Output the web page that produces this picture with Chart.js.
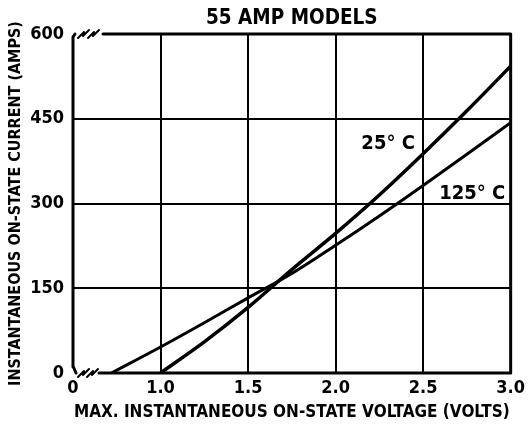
<!DOCTYPE html>
<html>
<head>
<meta charset="utf-8">
<script src="https://cdn.jsdelivr.net/npm/chart.js@4"></script>
<style>
  html, body { margin: 0; padding: 0; background: #fff; }
  #wrap { width: 530px; height: 427px; }
</style>
</head>
<body>
<div id="wrap"><canvas id="vi"></canvas></div>
<script>
// forward voltage (V) vs instantaneous current (A)
const volts25 = [1.0, 1.25, 1.5, 1.75, 2.0, 2.25, 2.5, 2.75, 3.0];
const amps25 = [0, 55, 116, 183, 247, 315, 388, 464, 543];

const volts125 = [0.72, 1.0, 1.25, 1.5, 1.75, 2.0, 2.25, 2.5, 2.75, 3.0];
const amps125 = [0, 46, 89, 133, 176, 226, 278, 332, 387, 443];

const xTicks = [0.5, 1.0, 1.5, 2.0, 2.5, 3.0];
const xTickLabels = ['0', '1.0', '1.5', '2.0', '2.5', '3.0'];
const yTicks = [0, 150, 300, 450, 600];

const curveLabels = ['25° C', '125° C'];
const labelAt = [[2.3, 406], [2.78, 318]];

const FONT = "'Liberation Sans Narrow', 'DejaVu Sans Condensed', 'Arial Narrow', sans-serif";

function toPoints(xs, ys) {
  return xs.map((x, i) => ({ x: x, y: ys[i] }));
}

// frame with the axis-break squiggles, plus the curve labels
const frame = {
  id: 'frame',
  afterDatasetsDraw(chart) {
    const c = chart.ctx;
    const a = chart.chartArea;
    c.save();
    c.strokeStyle = '#000';
    c.lineCap = 'round';
    c.lineJoin = 'round';
    c.lineWidth = 3;
    c.beginPath();
    // left
    c.moveTo(a.left, a.bottom - 6);
    c.lineTo(a.left, a.top + 3);
    c.lineTo(a.left + 2, a.top);
    // top, after break
    c.moveTo(a.left + 30, a.top);
    c.lineTo(a.right, a.top);
    c.lineTo(a.right, a.bottom);
    // bottom, after break
    c.lineTo(a.left + 26, a.bottom);
    c.moveTo(a.left, a.bottom - 7);
    c.lineTo(a.left + 3, a.bottom);
    c.stroke();

    c.lineWidth = 2;
    function squiggle(x, y) {
      c.beginPath();
      c.moveTo(x, y + 3);
      c.lineTo(x + 6, y - 3);
      c.lineTo(x + 5, y + 1);
      c.lineTo(x + 11, y - 5);
      c.stroke();
    }
    squiggle(a.left + 5, a.top + 1);
    squiggle(a.left + 15, a.top + 1);
    squiggle(a.left + 5, a.bottom + 1);
    squiggle(a.left + 14, a.bottom + 1);

    c.fillStyle = '#000';
    c.font = 'bold 20px ' + FONT;
    c.textAlign = 'center';
    c.textBaseline = 'middle';
    const xs = chart.scales.x, ys = chart.scales.y;
    curveLabels.forEach((t, i) => {
      c.fillText(t, xs.getPixelForValue(labelAt[i][0]), ys.getPixelForValue(labelAt[i][1]));
    });
    c.restore();
  }
};

const edge = (ctx, first, last) =>
  (ctx.tick && (ctx.tick.value === first || ctx.tick.value === last)) ? 'rgba(0,0,0,0)' : '#000';

new Chart(document.getElementById('vi'), {
  type: 'line',
  data: {
    datasets: [
      {
        label: '25° C',
        data: toPoints(volts25, amps25),
        borderColor: '#000',
        borderWidth: 3.5,
        pointRadius: 0,
        cubicInterpolationMode: 'monotone',
        fill: false
      },
      {
        label: '125° C',
        data: toPoints(volts125, amps125),
        borderColor: '#000',
        borderWidth: 3,
        pointRadius: 0,
        cubicInterpolationMode: 'monotone',
        fill: false
      }
    ]
  },
  options: {
    responsive: true,
    maintainAspectRatio: false,
    animation: false,
    layout: { padding: { left: 0, right: 12, top: 0, bottom: 0 } },
    plugins: {
      legend: { display: false },
      tooltip: { enabled: false },
      title: {
        display: true,
        text: '55 AMP MODELS',
        fullSize: false,
        color: '#000',
        font: { family: FONT, size: 20.5, weight: 'bold', lineHeight: 1.2 },
        padding: { top: 6, bottom: 3.4 }
      }
    },
    scales: {
      x: {
        type: 'linear',
        min: 0.5,
        max: 3.0,
        afterBuildTicks: s => { s.ticks = xTicks.map(v => ({ value: v })); },
        afterFit: s => { s.height = 54; },
        grid: { color: ctx => edge(ctx, 0.5, 3.0), lineWidth: 2, drawTicks: false },
        border: { display: false },
        ticks: {
          color: '#000',
          padding: 5,
          maxRotation: 0,
          font: { family: FONT, size: 18, weight: 'bold' },
          callback: v => xTickLabels[xTicks.indexOf(v)]
        },
        title: {
          display: true,
          text: 'MAX. INSTANTANEOUS ON-STATE VOLTAGE (VOLTS)',
          color: '#000',
          font: { family: FONT, size: 17, weight: 'bold' },
          padding: { top: 0, bottom: 4 }
        }
      },
      y: {
        min: 0,
        max: 600,
        afterBuildTicks: s => { s.ticks = yTicks.map(v => ({ value: v })); },
        afterFit: s => { s.width = 73; },
        grid: { color: ctx => edge(ctx, 0, 600), lineWidth: 2, drawTicks: false },
        border: { display: false },
        ticks: {
          color: '#000',
          padding: 9,
          font: { family: FONT, size: 18, weight: 'bold' }
        },
        title: {
          display: true,
          text: 'INSTANTANEOUS ON-STATE CURRENT (AMPS)',
          color: '#000',
          font: { family: FONT, size: 16, weight: 'bold' },
          padding: { top: 6, bottom: 4 }
        }
      }
    }
  },
  plugins: [frame]
});
</script>
</body>
</html>
